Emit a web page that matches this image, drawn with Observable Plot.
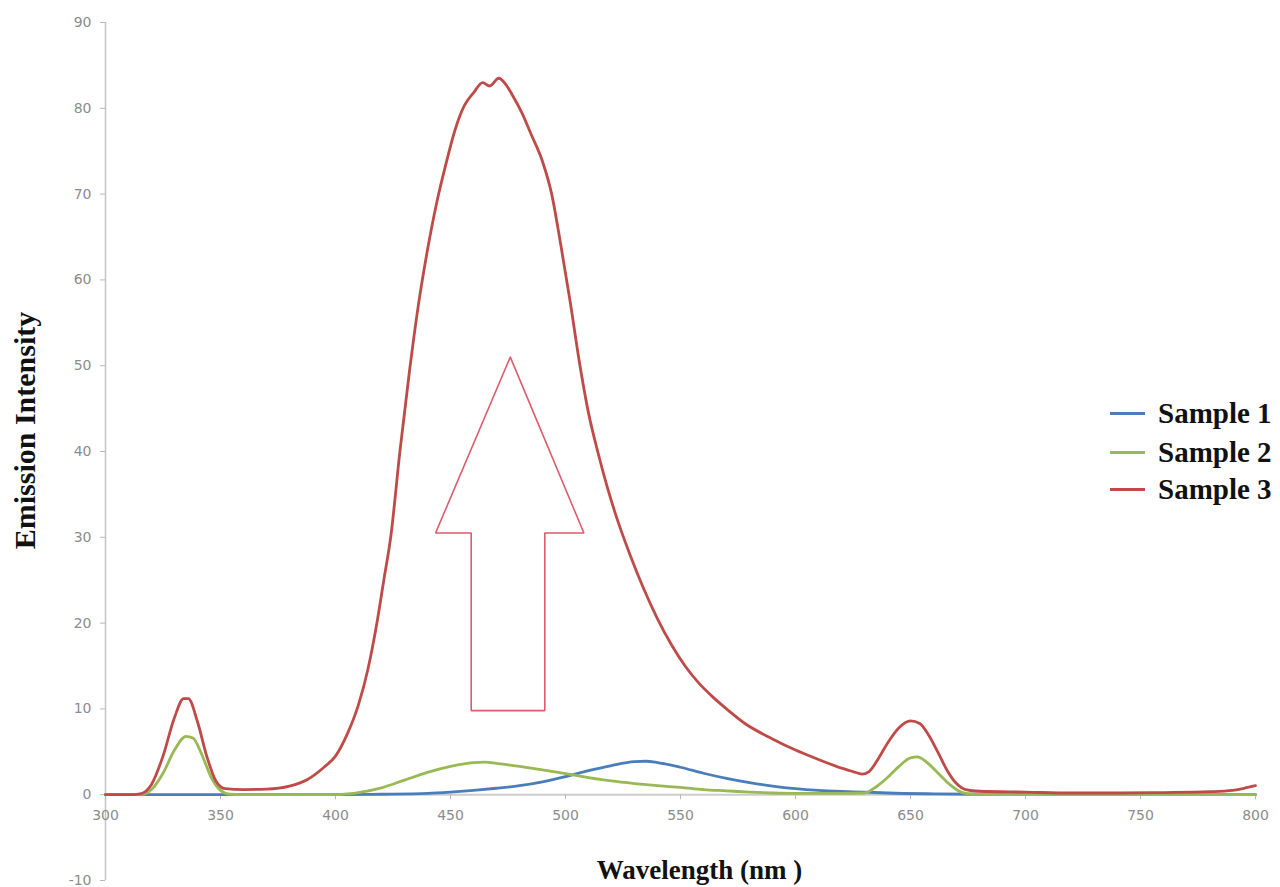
<!DOCTYPE html>
<html><head><meta charset="utf-8">
<script src="https://cdn.jsdelivr.net/npm/d3@7"></script>
<script src="https://cdn.jsdelivr.net/npm/@observablehq/plot@0.6"></script>
<style>
body{margin:0;background:#fff;}
#wrap{position:relative;width:1280px;height:887px;overflow:hidden;background:#fff;}
.row{position:absolute;left:1110px;height:30px;display:flex;align-items:center;}
.sw{width:35px;height:3px;margin-right:13px;}
.lbl{font-family:"Liberation Serif";font-weight:bold;font-size:29px;color:#111;white-space:nowrap;}
</style></head>
<body><div id="wrap"></div>
<script>
const seriesNames = ["Sample 1", "Sample 2", "Sample 3"];
const seriesColors = ["#4a7ebb", "#98b954", "#be4b48"];

const sample1Wavelength = [300,400,420,440,450,460,470,480,490,500,510,520,530,535,540,550,560,570,580,590,600,610,620,630,640,660,680,700,800];
const sample1Intensity  = [0,0,0.05,0.15,0.3,0.5,0.75,1.05,1.5,2.1,2.8,3.4,3.85,3.9,3.75,3.2,2.5,1.9,1.4,1.0,0.7,0.5,0.38,0.3,0.2,0.1,0.05,0,0];

const sample2Wavelength = [300,315,320,325,330,335,338,342,346,350,354,360,400,405,410,420,430,440,450,460,465,470,480,490,500,510,520,530,540,550,560,570,580,590,600,620,630,635,640,645,650,653,657,662,667,672,677,690,800];
const sample2Intensity  = [0,0,0.6,2.5,5.2,6.8,6.6,4.6,2.0,0.5,0.05,0,0,0.1,0.25,0.8,1.7,2.6,3.3,3.75,3.8,3.65,3.3,2.9,2.45,2.0,1.6,1.3,1.05,0.85,0.6,0.45,0.3,0.2,0.15,0.15,0.2,0.9,2.0,3.3,4.3,4.4,3.8,2.5,1.2,0.3,0.05,0,0];

const sample3Wavelength = [300,310,315,320,325,330,334,336,340,344,348,352,360,370,380,388,395,400,405,410,414,418,421,424,428,432,436,440,444,448,452,456,460,464,467,471,474,477,481,485,490,494,498,502,506,510,514,518,522,528,534,540,546,552,558,564,570,578,590,600,610,620,625,629,632,636,640,645,650,654,658,662,666,670,674,680,700,720,740,760,780,790,795,800];
const sample3Intensity  = [0,0,0.1,1.2,4.5,9.0,11.2,11.2,8.5,4.5,1.6,0.7,0.6,0.65,1.0,1.8,3.2,4.5,7.0,10.5,14.5,20,25,30,40,49,57,63.5,69,73.5,77.5,80.3,81.8,83.0,82.6,83.5,82.8,81.5,79.5,77.0,73.8,70,64,57.5,50.5,44.5,40,36,32.5,28,24,20.5,17.5,15,13,11.4,10,8.3,6.5,5.2,4.1,3.1,2.7,2.4,2.7,4.2,6.0,7.8,8.6,8.3,6.9,4.9,2.8,1.3,0.6,0.4,0.3,0.2,0.2,0.25,0.35,0.5,0.75,1.05];

const xTicks = [300,350,400,450,500,550,600,650,700,750,800];
const yTicks = [-10,0,10,20,30,40,50,60,70,80,90];

// annotation arrow outline, in data coordinates
const arrowWavelength = [476,508,491,491,459,459,443.5,476];
const arrowIntensity  = [51,30.5,30.5,9.8,9.8,30.5,30.5,51];

const xs = [sample1Wavelength, sample2Wavelength, sample3Wavelength];
const ys = [sample1Intensity, sample2Intensity, sample3Intensity];
const tables = seriesNames.map((s, i) => xs[i].map((w, j) => ({series: s, wl: w, v: ys[i][j]})));
const arrow = arrowWavelength.map((w, i) => ({wl: w, v: arrowIntensity[i]}));

const chart = Plot.plot({
  width: 1280, height: 887,
  marginLeft: 105, marginRight: 25, marginTop: 22, marginBottom: 7,
  x: {domain: [300, 800], axis: null},
  y: {domain: [-10, 90], axis: null},
  style: {fontFamily: "DejaVu Sans", fontSize: "14px", background: "white"},
  marks: [
    Plot.ruleX([300], {stroke: "#c4c4c4", strokeWidth: 1.5}),
    Plot.axisY(yTicks, {anchor: "left", tickSize: 5, tickPadding: 9, stroke: "#b8b8b8", fill: "#8c8c8c", label: null, fontSize: 14, tickFormat: d => String(d)}),
    Plot.ruleY([0], {stroke: "#cccccc", strokeWidth: 2}),
    Plot.ruleX(xTicks, {x: d => d, y1: 0, y2: 0, insetBottom: -5, stroke: "#b8b8b8"}),
    Plot.text(xTicks, {x: d => d, y: 0, dy: 21, text: d => String(d), fill: "#8c8c8c", fontSize: 14}),
    ...tables.map((t, i) => Plot.line(t, {x: "wl", y: "v", stroke: seriesColors[i], strokeWidth: 2.8, curve: "monotone-x"})),
    Plot.line(arrow, {x: "wl", y: "v", stroke: "#de5b6b", strokeWidth: 1.6, strokeLinejoin: "miter"}),
    Plot.text(["Emission Intensity"], {frameAnchor: "left", dx: -80, dy: -21, rotate: -90, textAnchor: "middle", fontFamily: "Liberation Serif", fontWeight: "bold", fontSize: 30, fill: "#111"}),
    Plot.text(["Wavelength (nm )"], {frameAnchor: "bottom", dx: 19, dy: -2, textAnchor: "middle", fontFamily: "Liberation Serif", fontWeight: "bold", fontSize: 27, fill: "#111"})
  ]
});
const wrap = document.getElementById("wrap");
wrap.appendChild(chart);
const legendTop = [398, 437, 474];
seriesNames.forEach((s, i) => {
  const row = document.createElement("div");
  row.className = "row";
  row.style.top = legendTop[i] + "px";
  row.innerHTML = `<div class="sw" style="background:${seriesColors[i]}"></div><span class="lbl">${s}</span>`;
  wrap.appendChild(row);
});
</script>
</body></html>
